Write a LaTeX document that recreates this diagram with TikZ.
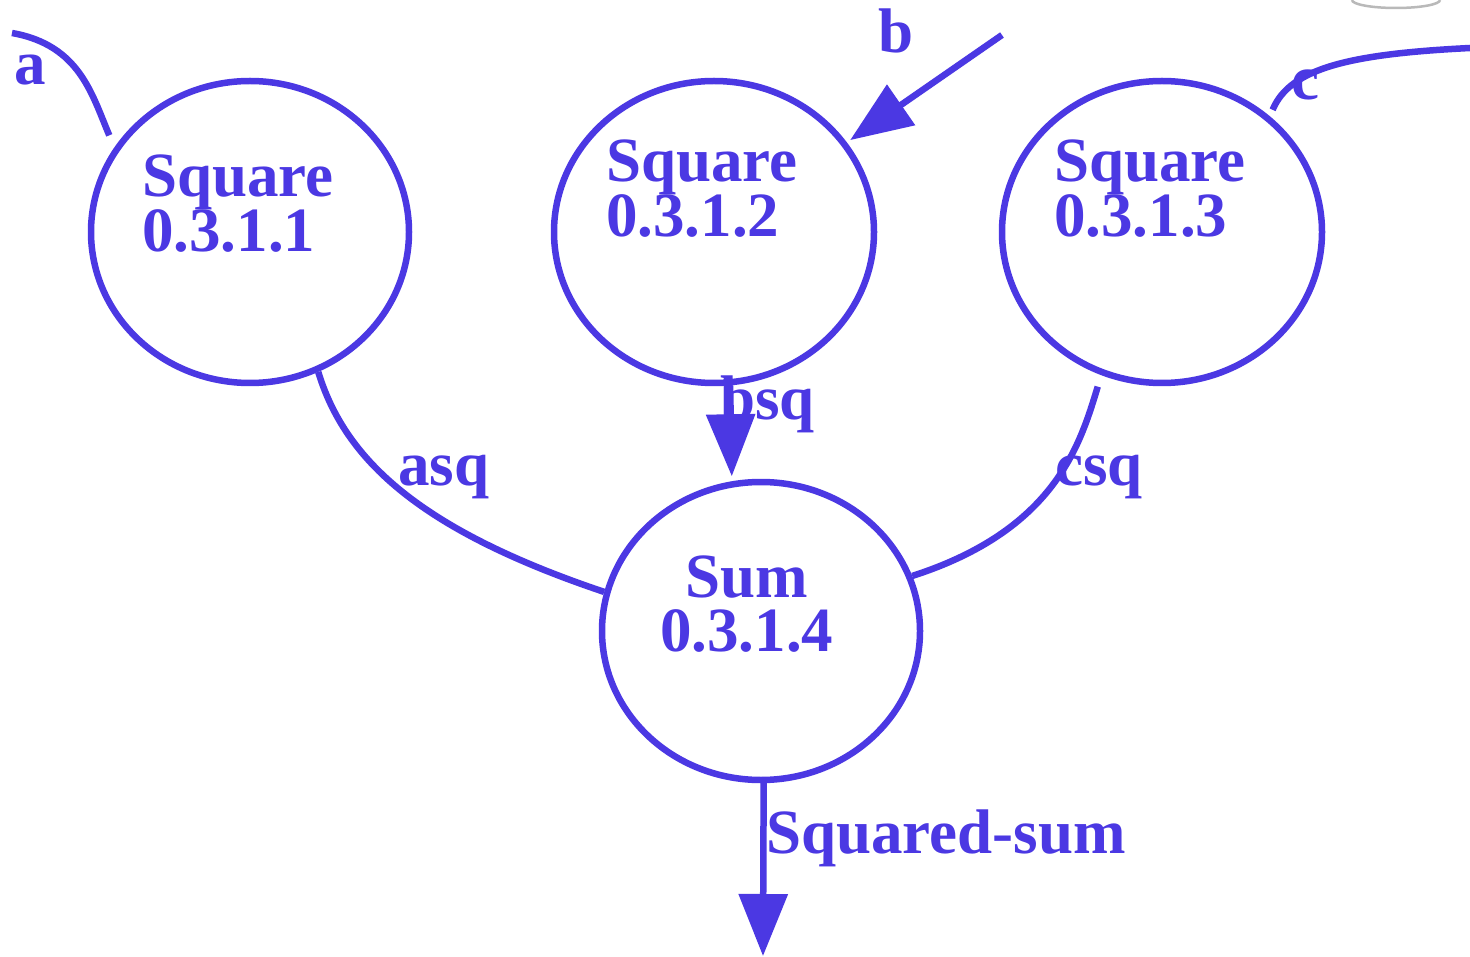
\documentclass[tikz,border=0pt]{standalone}
\usepackage{fontspec}
\setmainfont{Liberation Serif}
\usetikzlibrary{arrows.meta,shapes.geometric,calc}
\definecolor{ink}{RGB}{75,56,227}
\tikzset{
  circ/.style={ellipse,draw=ink,line width=6.5pt,inner sep=0pt},
  txt/.style={text=ink,inner sep=0pt,anchor=base west,font=\bfseries\fontsize{63}{55}\selectfont},
  conn/.style={draw=ink,line width=6.5pt},
  arr/.style={conn,-{Triangle[length=62pt,width=48pt]}}
}
\begin{document}
\begin{tikzpicture}[x=1pt,y=-1pt]
\useasboundingbox (0,0) rectangle (1470,957);
\fill[white] (0,0) rectangle (1470,957);
% faint partial logo at top edge
\draw[gray!55,line width=2.5pt] (1352,0) arc[start angle=180,end angle=360,x radius=44,y radius=-8];
% circles
\node[circ,minimum width=318pt,minimum height=302pt] (n1) at (250,232) {};
\node[circ,minimum width=320pt,minimum height=302pt] (n2) at (714,232) {};
\node[circ,minimum width=320pt,minimum height=302pt] (n3) at (1162,232) {};
\node[circ,minimum width=318pt,minimum height=298pt] (n4) at (761,631) {};
% node texts
\node[txt] (t1a) at (142,197) {Square};
\node[txt] (t1b) at (142,252) {0.3.1.1};
\node[txt] (t2a) at (606,182) {Square};
\node[txt] (t2b) at (606,237) {0.3.1.2};
\node[txt] (t3a) at (1054,182) {Square};
\node[txt] (t3b) at (1054,237) {0.3.1.3};
\node[txt] (t4a) at (685,597) {Sum};
\node[txt] (t4b) at (660,651) {0.3.1.4};
% free ends
\coordinate (aend) at (12,33);
\coordinate (bend) at (1002,35);
\coordinate (cend) at (1470,48);
\coordinate (outend) at (763,956);
% connectors
\draw[conn,shorten >=13pt] (aend) .. controls (80,45) and (92,95) .. (n1.148);
\draw[arr,shorten >=4pt] (bend) -- (n2.34.5);
\draw[conn,shorten >=7pt] (cend) .. controls (1350,54) and (1290,68) .. (n3.47);
\draw[conn] (n1.-64.4) .. controls (345,460) and (420,530) .. (n4.166.4);
\draw[arr,shorten >=5pt] (n2.-84) -- (n4.101.5);
\draw[conn,shorten <=12pt] (n3.-113) .. controls (1080,445) and (1055,530) .. (n4.20.6);
\draw[arr] (n4.-89.3) -- (outend);
% labels
\node[txt] (la) at (14,85) {a};
\node[txt] (lb) at (878,53) {b};
\node[txt] (lc) at (1291,100) {c};
\node[txt] (lasq) at (398,485) {asq};
\node[txt] (lbsq) at (720,420) {bsq};
\node[txt] (lcsq) at (1055,485) {csq};
\node[txt] (lout) at (766,853) {Squared-sum};
\end{tikzpicture}
\end{document}
